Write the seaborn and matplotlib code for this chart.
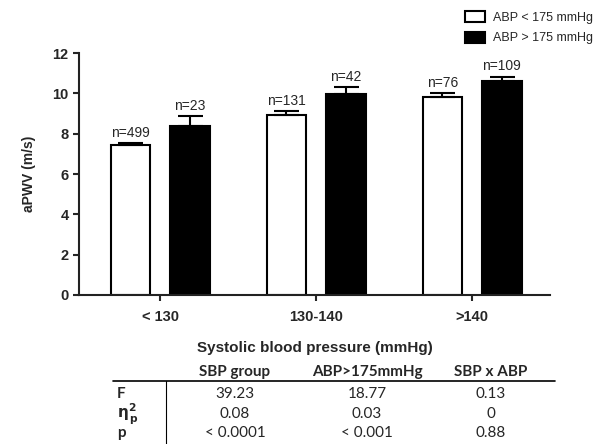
import numpy as np
import pandas as pd
import seaborn as sns
import matplotlib
matplotlib.use('Agg')
import matplotlib.pyplot as plt
from matplotlib.lines import Line2D

# Data
sbp_groups = ['< 130', '130-140', '>140']
abp_groups = ['ABP < 175 mmHg', 'ABP > 175 mmHg']
low_means = [7.45, 8.95, 9.80]
low_err = [0.08, 0.16, 0.20]
low_n = [499, 131, 76]
high_means = [8.40, 9.95, 10.62]
high_err = [0.47, 0.36, 0.20]
high_n = [23, 42, 109]

table_cols = ['SBP group', 'ABP>175mmHg', 'SBP x ABP']
table_rows = ['F', r'$\mathbf{\eta^{2}_{\,p}}$', 'p']
f_vals = ['39.23', '18.77', '0.13']
eta_vals = ['0.08', '0.03', '0']
p_vals = ['< 0.0001', '< 0.001', '0.88']

df = pd.DataFrame({
    'sbp': sbp_groups * 2,
    'abp': [abp_groups[0]] * 3 + [abp_groups[1]] * 3,
    'aPWV': low_means + high_means,
})
errs = [low_err, high_err]
ns = [low_n, high_n]

sns.set_style('ticks')
plt.rcParams['font.family'] = ['Liberation Sans', 'DejaVu Sans']

W, H = 601, 444
fig = plt.figure(figsize=(W / 100, H / 100), dpi=100)
ax = fig.add_axes([79 / W, 1 - 295 / H, (550 - 79) / W, (295 - 53) / H])

sns.barplot(data=df, x='sbp', y='aPWV', hue='abp', palette=['white', 'black'],
            edgecolor='black', linewidth=1.5, width=0.76, gap=0.33,
            errorbar=None, ax=ax)

# error bars (upper only) + n labels
for cont, e, n in zip(ax.containers, errs, ns):
    xs = [b.get_x() + b.get_width() / 2 for b in cont]
    hs = [b.get_height() for b in cont]
    ax.errorbar(xs, hs, yerr=[np.zeros(len(e)), e], fmt='none', ecolor='black',
                elinewidth=1.5, capsize=9, capthick=1.5, zorder=1)
    for x, h, ee, nn in zip(xs, hs, e, n):
        ax.annotate(f'n={nn}', (x, h + ee), xytext=(0, 2.5), textcoords='offset points',
                    ha='center', va='bottom', fontsize=10)

ax.set_ylim(0, 12)
ax.set_xlim(-0.52, 2.5)
ax.set_yticks(range(0, 13, 2))
ax.set_ylabel('aPWV (m/s)', fontsize=10, fontweight='bold', labelpad=12)
ax.set_xlabel('Systolic blood pressure (mmHg)', fontsize=11, fontweight='bold', labelpad=12)
ax.tick_params(axis='both', direction='out', length=4, width=1.5, labelsize=10.5)
ax.tick_params(axis='x', pad=7)
for lbl in ax.get_xticklabels() + ax.get_yticklabels():
    lbl.set_fontweight('bold')
sns.despine(ax=ax)
for s in ['left', 'bottom']:
    ax.spines[s].set_linewidth(1.5)
    ax.spines[s].set_color('#222222')

handles, labels = ax.get_legend_handles_labels()
ax.legend(handles, labels, loc='upper left', bbox_to_anchor=(454 / W, 1 - 0 / H),
          bbox_transform=fig.transFigure, frameon=False, fontsize=9,
          handlelength=1.6, handleheight=1.0, handletextpad=0.6, labelspacing=0.6)

# stats table below the chart
def fy(y):
    return 1 - y / H

col_x = [235, 367, 491]
tfont = ['Lato', 'DejaVu Sans']
for cx, c in zip(col_x, table_cols):
    fig.text(cx / W, fy(372), c, ha='center', va='center', fontsize=11,
             family=tfont, fontweight='bold')
fig.add_artist(Line2D([113 / W, 555 / W], [fy(381), fy(381)], color='black', lw=1.2))
fig.add_artist(Line2D([166 / W, 166 / W], [fy(381), fy(444)], color='black', lw=0.8))
row_y = [394, 414, 433]
for ry, rl, vals in zip(row_y, table_rows, [f_vals, eta_vals, p_vals]):
    fig.text(117 / W, fy(ry), rl, ha='left', va='center', fontsize=11,
             family=tfont, fontweight='bold')
    for cx, v in zip(col_x, vals):
        fig.text(cx / W, fy(ry), v, ha='center', va='center', fontsize=11, family=tfont)

fig.savefig('out.png', dpi=100)
